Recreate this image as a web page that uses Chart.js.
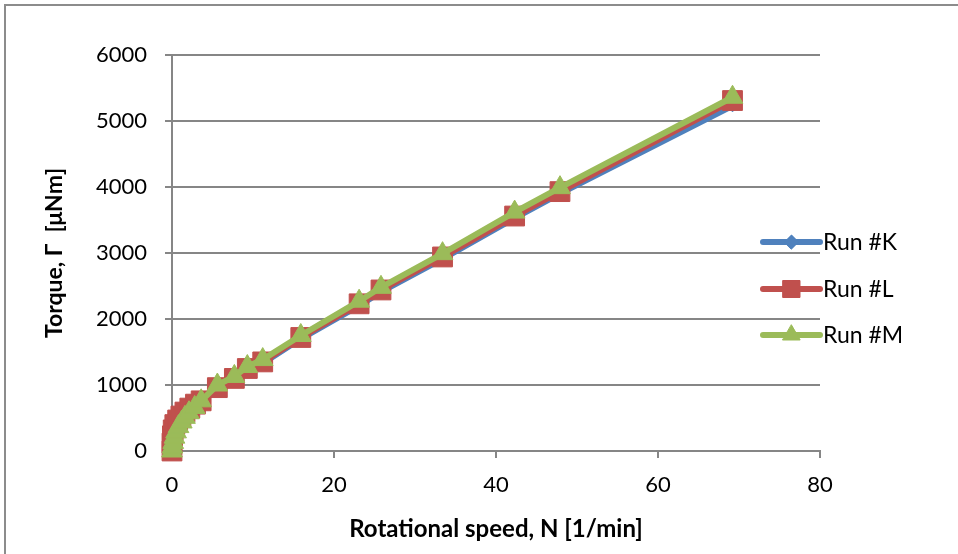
<!DOCTYPE html>
<html>
<head>
<meta charset="utf-8">
<script src="https://cdn.jsdelivr.net/npm/chart.js@4.4.1/dist/chart.umd.min.js"></script>
<style>
  html, body { margin: 0; padding: 0; background: #fff; overflow: hidden; }
  #frame { position: absolute; left: 4px; top: 4px; width: 1000px; height: 600px; border: 2px solid #8c8c8c; box-sizing: border-box; }
  #wrap { position: absolute; left: 0; top: 0; width: 958px; height: 554px; }
</style>
</head>
<body>
<div id="frame"></div>
<div id="wrap"><canvas id="canvas-torque"></canvas></div>
<script>
// rotational speed [1/min] and torque [uNm] per run
var runNames = ['Run #K', 'Run #L', 'Run #M'];
var speedK = [0, 0.05, 0.15, 0.3, 0.5, 0.8, 1.2, 1.6, 2.1, 2.8, 3.6, 5.6, 7.7, 9.3, 11.2, 15.9, 23.1, 25.8, 33.4, 42.3, 47.9, 69.2];
var torqueK = [0, 60, 120, 200, 280, 360, 430, 500, 570, 650, 740, 940, 1080, 1230, 1330, 1700, 2200, 2410, 2910, 3530, 3900, 5230];
var speedL = [0, 0, 0.05, 0.15, 0.35, 0.7, 1.1, 1.6, 2.2, 2.9, 3.6, 5.6, 7.7, 9.3, 11.2, 15.9, 23.1, 25.8, 33.4, 42.3, 47.9, 69.2];
var torqueL = [0, 120, 230, 320, 400, 470, 530, 590, 650, 710, 760, 960, 1100, 1250, 1350, 1720, 2230, 2440, 2940, 3560, 3930, 5310];
var speedM = [0, 0.05, 0.15, 0.3, 0.5, 0.8, 1.2, 1.6, 2.1, 2.8, 3.6, 5.6, 7.7, 9.3, 11.2, 15.9, 23.1, 25.8, 33.4, 42.3, 47.9, 69.2];
var torqueM = [0, 60, 130, 210, 290, 370, 440, 510, 580, 660, 760, 1000, 1130, 1280, 1385, 1750, 2270, 2480, 2990, 3620, 3990, 5360];

var colors = ['#4F81BD', '#C0504D', '#9BBB59'];
var markers = ['rectRot', 'rect', 'triangle'];
var markerSize = [6, 14, 12];
var legendMarkerSize = [7, 12, 10];
var gridColor = '#868686';
var fontFamily = 'Lato, "Open Sans", sans-serif';

function toPoints(xs, ys) {
    var pts = [];
    for (var i = 0; i < xs.length; i++) pts.push({ x: xs[i], y: ys[i] });
    return pts;
}

function makeSet(i, xs, ys) {
    return {
        label: runNames[i], data: toPoints(xs, ys), showLine: true, clip: false,
        borderColor: colors[i], backgroundColor: colors[i], borderWidth: 6,
        pointStyle: markers[i], pointRadius: markerSize[i], pointBorderWidth: 1,
        pointBorderColor: colors[i], pointBackgroundColor: colors[i],
        order: 3 - i
    };
}

// legend at the right: line segment with the marker on it, then the name
var sideLegend = {
    id: 'sideLegend',
    afterDraw: function(chart) {
        var ctx = chart.ctx;
        var x0 = 763, x1 = 820, rows = [242, 289, 335];
        ctx.save();
        for (var i = 0; i < runNames.length; i++) {
            var y = rows[i];
            ctx.strokeStyle = colors[i]; ctx.lineWidth = 6; ctx.lineCap = 'round';
            ctx.beginPath(); ctx.moveTo(x0, y); ctx.lineTo(x1, y); ctx.stroke();
            ctx.fillStyle = colors[i]; ctx.lineWidth = 1;
            Chart.helpers.drawPoint(ctx, { pointStyle: markers[i], radius: legendMarkerSize[i], borderWidth: 1, rotation: 0 }, (x0 + x1) / 2, y);
            ctx.fill();
            ctx.fillStyle = '#000'; ctx.font = '23px ' + fontFamily; ctx.textBaseline = 'middle';
            ctx.fillText(runNames[i], x1 + 3, y + 1);
        }
        ctx.restore();
    }
};

function plainNumber(v) { return String(v); }

function initChart() {
    var ctx = document.getElementById('canvas-torque').getContext('2d');
    new Chart(ctx, {
        type: 'scatter',
        data: {
            datasets: [
                makeSet(0, speedK, torqueK),
                makeSet(1, speedL, torqueL),
                makeSet(2, speedM, torqueM)
            ]
        },
        options: {
            responsive: true, maintainAspectRatio: false, animation: false,
            layout: { padding: { left: 0, top: 55, right: 138, bottom: 0 } },
            plugins: { legend: { display: false }, tooltip: { enabled: false } },
            scales: {
                x: {
                    type: 'linear', min: 0, max: 80,
                    ticks: { stepSize: 20, color: '#000', padding: 14, callback: plainNumber, font: { family: fontFamily, size: 22 } },
                    grid: { drawOnChartArea: false, drawTicks: true, tickLength: 7, color: gridColor, lineWidth: 2 },
                    border: { display: true, color: gridColor, width: 2 },
                    title: { display: true, text: 'Rotational speed, N [1/min]', color: '#000', padding: { top: 0, bottom: 10 },
                             font: { family: fontFamily, size: 24, weight: 'bold' } },
                    afterFit: function(scale) { scale.height = 103; }
                },
                y: {
                    type: 'linear', min: 0, max: 6000,
                    ticks: { stepSize: 1000, color: '#000', padding: 18, callback: plainNumber, font: { family: fontFamily, size: 22 } },
                    grid: { drawTicks: true, tickLength: 7, color: gridColor, lineWidth: 2 },
                    border: { display: true, color: gridColor, width: 2 },
                    title: { display: true, text: 'Torque, Γ  [μNm]', color: '#000', padding: { top: 41, bottom: 0 },
                             font: { family: fontFamily, size: 23, weight: 'bold' } },
                    afterFit: function(scale) { scale.width = 172; }
                }
            }
        },
        plugins: [sideLegend]
    });
}
initChart();
</script>
</body>
</html>
